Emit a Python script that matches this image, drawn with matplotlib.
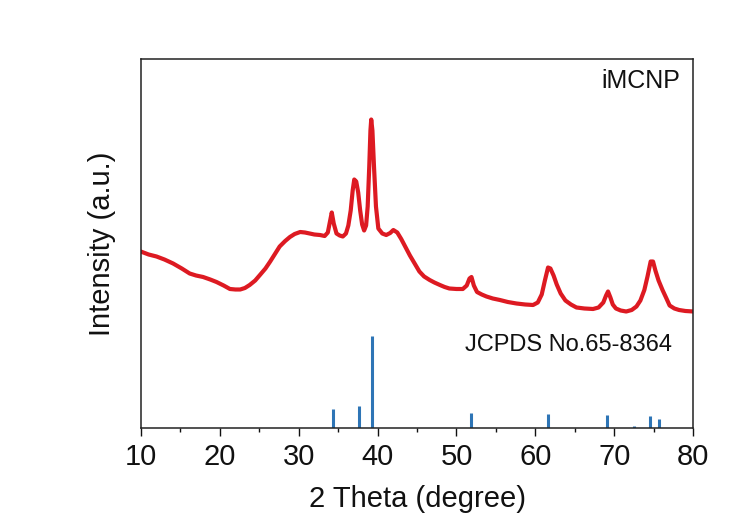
import matplotlib
matplotlib.use("Agg")
import matplotlib.pyplot as plt
from matplotlib.ticker import MultipleLocator

plt.rcParams['font.family'] = ['Liberation Sans', 'DejaVu Sans']

# Measured XRD pattern (2theta in degrees, intensity in a.u.)
two_theta = [10.0, 11.0, 12.0, 13.0, 14.1, 15.2, 16.2, 17.0, 17.9, 18.8, 19.6, 20.5,
             21.3, 22.0, 22.6, 23.2, 23.8, 24.5, 25.1, 25.8, 26.4, 27.0, 27.6, 28.3,
             28.9, 29.5, 30.2, 30.8, 31.4, 32.0, 32.7, 33.3, 33.7, 33.95, 34.2, 34.45,
             34.8, 35.2, 35.6, 36.0, 36.3, 36.6, 36.85, 37.05, 37.3, 37.55, 37.8, 38.05,
             38.3, 38.55, 38.75, 38.95, 39.1, 39.2, 39.35, 39.55, 39.8, 40.1, 40.6, 41.1,
             41.6, 42.0, 42.5, 43.0, 43.5, 44.1, 44.7, 45.3, 45.9, 46.6, 47.2, 47.9,
             48.5, 49.1, 50.0, 50.8, 51.3, 51.65, 51.9, 52.2, 52.6, 53.2, 53.8, 54.6,
             55.5, 56.5, 57.6, 58.7, 59.7, 60.3, 60.8, 61.2, 61.6, 61.9, 62.3, 62.7,
             63.2, 63.8, 64.5, 65.2, 66.2, 67.3, 68.0, 68.6, 68.95, 69.2, 69.5, 69.8,
             70.2, 70.8, 71.5, 72.2, 72.8, 73.3, 73.8, 74.2, 74.6, 74.9, 75.2, 75.6,
             76.1, 76.6, 77.0, 77.6, 78.2, 79.0, 80.0]
intensity = [177, 174, 172, 169, 165, 160, 155, 153, 151.5, 149, 146.5, 143,
             139.5, 139, 139, 140.5, 143.5, 148, 153.5, 160, 167, 174.5, 182, 187.5,
             191.5, 194.5, 196.5, 196, 195, 194, 193.5, 192.5, 196, 206, 216, 205,
             195, 193, 192, 195, 203, 218, 238, 249, 247, 236, 218, 204,
             198, 203, 222, 262, 298, 309, 298, 262, 222, 200, 195, 193.5,
             195.5, 198.5, 196, 189.5, 182, 173, 165, 157, 152, 148.5, 146, 143.5,
             141.5, 140, 139.5, 139.5, 143, 150, 151.5, 143, 136.5, 134, 132, 130,
             128.5, 126.5, 125, 124, 123.5, 126, 134, 148, 161, 160, 153, 144,
             135, 128, 124, 121, 120, 119.5, 121, 126, 133, 137, 131, 124,
             120, 118, 117, 118.5, 122, 128, 138.5, 152, 167, 167, 158, 148,
             138.5, 130, 123, 120, 118.5, 117.5, 117]

# Reference pattern JCPDS No.65-8364
ref_pos = [34.4, 37.7, 39.3, 51.9, 61.6, 69.1, 72.5, 74.5, 75.6]
ref_int = [19.4, 22.0, 92.5, 15.0, 14.4, 13.0, 2.0, 12.0, 9.7]

sample_label = "iMCNP"
ref_label = "JCPDS No.65-8364"
x_label = "2 Theta (degree)"
y_label = "Intensity (a.u.)"

fig = plt.figure(figsize=(7.53, 5.26), dpi=100)
ax = fig.add_axes([0.1869, 0.1854, 0.7338, 0.7024])

ax.plot(two_theta, intensity, color='#dd1a22', lw=3.0, solid_joinstyle='round',
        solid_capstyle='round')
ax.vlines(ref_pos, 0, ref_int, color='#2e75b6', lw=2.2)

ax.set_xlim(10, 80)
ax.set_ylim(0, 369.5)
ax.set_yticks([])
ax.xaxis.set_major_locator(MultipleLocator(10))
ax.xaxis.set_minor_locator(MultipleLocator(5))
ax.tick_params(axis='x', which='major', direction='out', length=5.8, width=1.0,
               labelsize=21, pad=4.5, colors='#111111')
ax.tick_params(axis='x', which='minor', direction='out', length=3.2, width=1.0,
               colors='#111111')
for s in ax.spines.values():
    s.set_linewidth(1.1)
    s.set_color('#222222')

ax.set_xlabel(x_label, fontsize=21, labelpad=10, color='#111111')
ax.set_ylabel(y_label, fontsize=21, labelpad=18, color='#111111')

ax.text(0.976, 0.94, sample_label, transform=ax.transAxes, ha='right', va='center',
        fontsize=18, color='#111111')
ax.text(0.9615, 0.2246, ref_label, transform=ax.transAxes, ha='right', va='center',
        fontsize=17, color='#111111')

fig.savefig("out.png", dpi=100)
